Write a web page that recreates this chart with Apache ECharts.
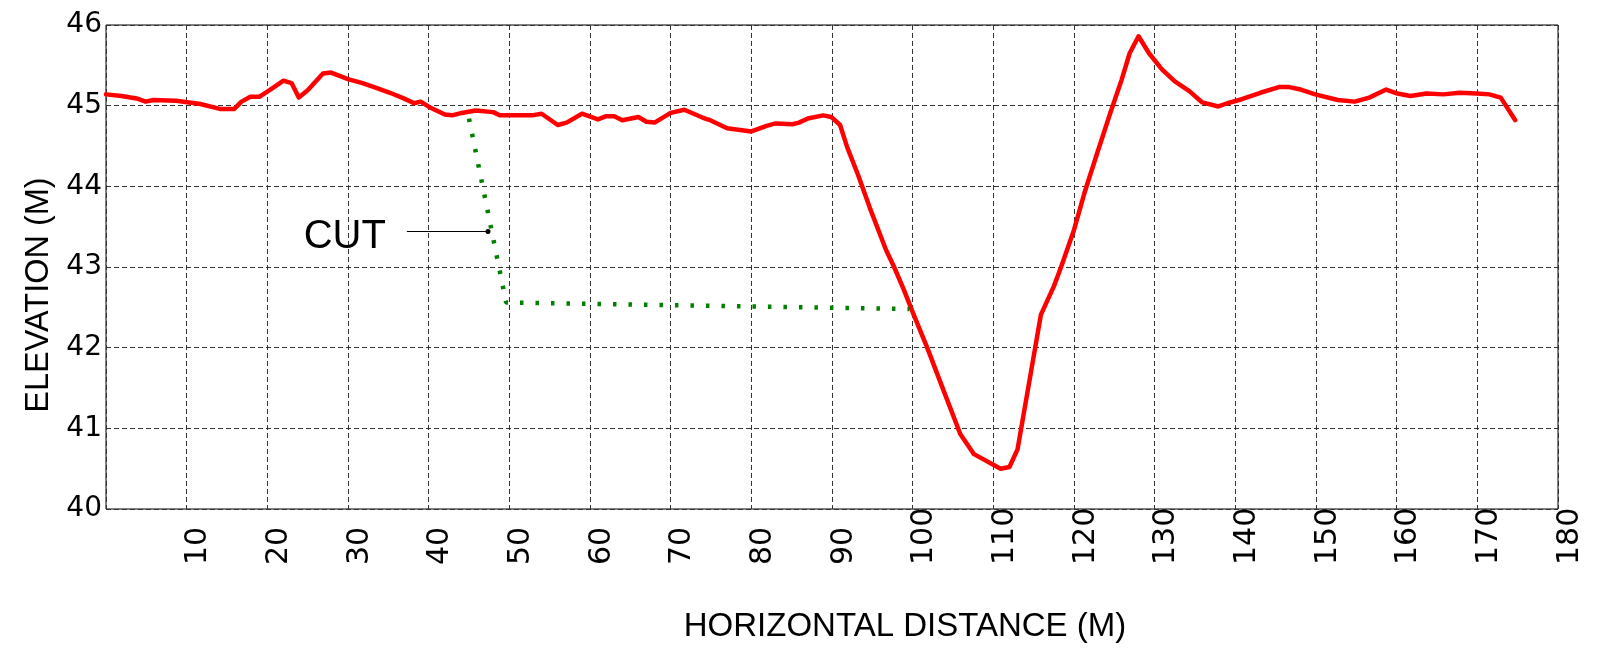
<!DOCTYPE html>
<html>
<head>
<meta charset="utf-8">
<title>Elevation profile</title>
<script src="https://cdn.jsdelivr.net/npm/echarts@6/dist/echarts.min.js"></script>
<style>
  html, body { margin: 0; padding: 0; background: #ffffff; }
  #chart { width: 1602px; height: 649px; }
</style>
</head>
<body>
<div id="chart"></div>
<script>
// Ground profile: horizontal distance (m) and elevation (m)
const profileDistance = [
  0, 1.9, 3.8, 4.9, 5.9, 8.7, 11.7, 14.1, 15.9, 16.8, 17.9, 19, 20.7, 22, 23, 23.9, 25,
  26.9, 27.9, 30, 31.8, 33.5, 35.2, 36.9, 38.2, 39, 40.3, 42, 42.9, 44.1, 45.8, 48, 48.8,
  51.1, 52.8, 54, 56, 57.1, 59, 61, 62, 63, 64, 66, 67, 68, 70, 71.7, 74, 74.9, 77, 80,
  81.9, 83, 85.1, 85.9, 87, 88.9, 89.9, 91, 91.9, 93.2, 94.7, 96.7, 97.7, 98.9, 100,
  101.8, 103.6, 105.9, 107.6, 110.9, 112, 113, 115.9, 117.5, 118.4, 120, 121.3, 122.9,
  124.5, 125.9, 126.9, 128, 129.3, 130.9, 132.5, 134.3, 135.9, 137.9, 139, 140.8, 143.1,
  145.4, 146.7, 148.1, 149.9, 152.7, 154.8, 156.6, 158.7, 160.1, 161.7, 163.7, 165.8,
  167.8, 169.9, 171.5, 172.9, 174.7
];
const profileElevation = [
  45.14, 45.12, 45.09, 45.05, 45.07, 45.06, 45.02, 44.96, 44.96, 45.05, 45.11, 45.11, 45.22, 45.31, 45.28, 45.10, 45.19,
  45.40, 45.41, 45.33, 45.28, 45.22, 45.16, 45.09, 45.03, 45.05, 44.97, 44.89, 44.88, 44.91, 44.94, 44.92, 44.88,
  44.88, 44.88, 44.90, 44.76, 44.79, 44.90, 44.83, 44.87, 44.87, 44.82, 44.86, 44.80, 44.79, 44.91, 44.95, 44.85, 44.82, 44.72, 44.68,
  44.75, 44.78, 44.77, 44.79, 44.84, 44.88, 44.86, 44.76, 44.48, 44.15, 43.73, 43.21, 43.00, 42.72, 42.44,
  42.00, 41.53, 40.93, 40.68, 40.50, 40.52, 40.74, 42.41, 42.76, 43.00, 43.46, 43.92, 44.42,
  44.91, 45.32, 45.65, 45.86, 45.65, 45.45, 45.30, 45.18, 45.04, 44.99, 45.03, 45.08, 45.16,
  45.23, 45.23, 45.20, 45.14, 45.07, 45.05, 45.10, 45.20, 45.15, 45.12, 45.15, 45.14,
  45.16, 45.15, 45.14, 45.10, 44.82
];

// Proposed cut line
const cutDistance = [45.0, 49.6, 99.6];
const cutElevation = [44.84, 42.56, 42.48];

// Leader line for the "CUT" callout
const calloutText = 'CUT';
const calloutDistance = [37.3, 47.35];
const calloutElevation = [43.44, 43.44];

// Axis ticks
const xTickLabels = ['', '10', '20', '30', '40', '50', '60', '70', '80', '90', '100',
  '110', '120', '130', '140', '150', '160', '170', '180'];
const yTickLabels = ['40', '41', '42', '43', '44', '45', '46'];

const xTitle = 'HORIZONTAL DISTANCE (M)';
const yTitle = 'ELEVATION (M)';

const zip = (xs, ys) => xs.map((x, i) => [x, ys[i]]);

const FONT = '"Liberation Sans", Arial, Helvetica, sans-serif';
const TICK_FONT = '"DejaVu Sans", sans-serif';
const gridDash = { type: [5, 3], color: '#333', width: 1 };

const chart = echarts.init(document.getElementById('chart'), null, { renderer: 'canvas' });

chart.setOption({
  animation: false,
  backgroundColor: '#ffffff',
  grid: {
    left: 106, right: 44, top: 25, bottom: 140,
    show: true, borderColor: '#000', borderWidth: 1, backgroundColor: 'transparent'
  },
  xAxis: {
    type: 'value',
    min: 0, max: 180, interval: 10,
    axisLine: { show: false },
    axisTick: { show: false },
    splitLine: { show: true, lineStyle: gridDash },
    axisLabel: {
      rotate: 90,
      margin: 56,
      fontFamily: TICK_FONT,
      fontSize: 30,
      color: '#000',
      align: 'left',
      verticalAlign: 'top',
      lineHeight: 24,
      formatter: v => xTickLabels[Math.round(v / 10)] ?? ''
    }
  },
  yAxis: {
    type: 'value',
    min: 40, max: 46, interval: 1,
    axisLine: { show: false },
    axisTick: { show: false },
    splitLine: { show: true, lineStyle: gridDash },
    axisLabel: {
      margin: 4,
      fontFamily: TICK_FONT,
      fontSize: 28,
      color: '#000',
      formatter: v => yTickLabels[Math.round(v - 40)] ?? ''
    }
  },
  graphic: [
    {
      type: 'text',
      x: 905, y: 627,
      silent: true,
      style: {
        text: xTitle, fontFamily: FONT, fontSize: 33, fill: '#000',
        align: 'center', verticalAlign: 'middle'
      }
    },
    {
      type: 'text',
      x: 39, y: 295,
      rotation: Math.PI / 2,
      silent: true,
      style: {
        text: yTitle, fontFamily: FONT, fontSize: 32.5, fill: '#000',
        align: 'center', verticalAlign: 'middle'
      }
    }
  ],
  series: [
    {
      name: 'Ground',
      type: 'line',
      data: zip(profileDistance, profileElevation),
      symbol: 'none',
      silent: true,
      lineStyle: { color: '#ff0000', width: 4.5, join: 'round', cap: 'round' },
      z: 3
    },
    {
      name: 'Cut',
      type: 'line',
      data: zip(cutDistance, cutElevation),
      symbol: 'none',
      silent: true,
      lineStyle: { color: '#008000', width: 4.5, type: [3.5, 12] },
      z: 4
    },
    {
      name: 'Callout',
      type: 'line',
      data: zip(calloutDistance, calloutElevation).map((p, i) => i === 0 ? {
        value: p,
        label: {
          show: true,
          position: 'left',
          distance: 21,
          offset: [0, 5],
          formatter: calloutText,
          fontFamily: FONT,
          fontSize: 40,
          color: '#000'
        }
      } : { value: p }),
      symbol: 'circle',
      symbolSize: (val, params) => params.dataIndex === 1 ? 5 : 0,
      showAllSymbol: true,
      itemStyle: { color: '#000' },
      silent: true,
      lineStyle: { color: '#000', width: 1 },
      z: 5
    }
  ]
});
</script>
</body>
</html>
